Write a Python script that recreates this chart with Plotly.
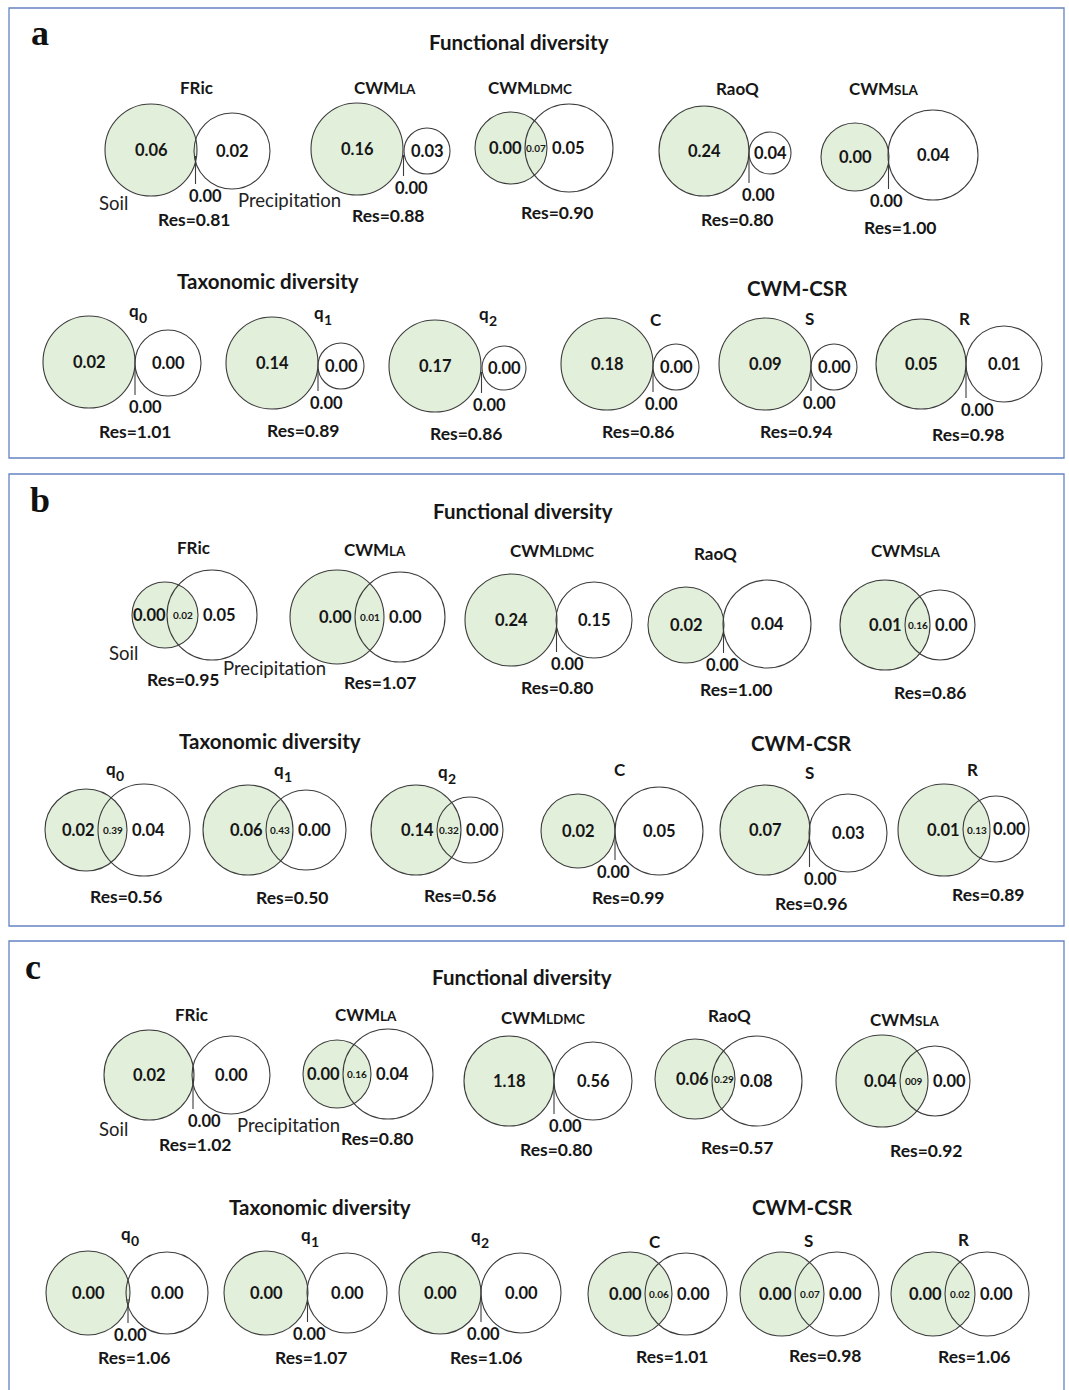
import plotly.graph_objects as go

# Variance partitioning of diversity metrics between soil and precipitation
# Order: FRic, CWM_LA, CWM_LDMC, RaoQ, CWM_SLA, q0, q1, q2, C, S, R
metric_titles = [
    ("FRic", ""), ("CWM", "LA"), ("CWM", "LDMC"), ("RaoQ", ""), ("CWM", "SLA"),
    ("q", "0"), ("q", "1"), ("q", "2"),
    ("C", ""), ("S", ""), ("R", ""),
]
group_titles = ["Functional diversity", "Taxonomic diversity", "CWM-CSR"]
panel_letters = ["a", "b", "c"]
set_names = ["Soil", "Precipitation"]

# panel a
soil_a = [0.06, 0.16, 0.00, 0.24, 0.00, 0.02, 0.14, 0.17, 0.18, 0.09, 0.05]
shared_a = [0.00, 0.00, 0.07, 0.00, 0.00, 0.00, 0.00, 0.00, 0.00, 0.00, 0.00]
precip_a = [0.02, 0.03, 0.05, 0.04, 0.04, 0.00, 0.00, 0.00, 0.00, 0.00, 0.01]
res_a = [0.81, 0.88, 0.90, 0.80, 1.00, 1.01, 0.89, 0.86, 0.86, 0.94, 0.98]

# panel b
soil_b = [0.00, 0.00, 0.24, 0.02, 0.01, 0.02, 0.06, 0.14, 0.02, 0.07, 0.01]
shared_b = [0.02, 0.01, 0.00, 0.00, 0.16, 0.39, 0.43, 0.32, 0.00, 0.00, 0.13]
precip_b = [0.05, 0.00, 0.15, 0.04, 0.00, 0.04, 0.00, 0.00, 0.05, 0.03, 0.00]
res_b = [0.95, 1.07, 0.80, 1.00, 0.86, 0.56, 0.50, 0.56, 0.99, 0.96, 0.89]

# panel c
soil_c = [0.02, 0.00, 1.18, 0.06, 0.04, 0.00, 0.00, 0.00, 0.00, 0.00, 0.00]
shared_c = [0.00, 0.16, 0.00, 0.29, 0.09, 0.00, 0.00, 0.00, 0.06, 0.07, 0.02]
precip_c = [0.00, 0.04, 0.56, 0.08, 0.00, 0.00, 0.00, 0.00, 0.00, 0.00, 0.00]
res_c = [1.02, 0.80, 0.80, 0.57, 0.92, 1.06, 1.07, 1.06, 1.01, 0.98, 1.06]
# the shared fraction of CWM_SLA in panel c is printed without its decimal point
shared_text_c = {4: "009"}

# ---------------------------------------------------------------- layout ----
W, H = 1069, 1390
FONT = "Lato"
INK = "#161616"
GREEN = "#E2EFDA"
EDGE = "#3c3c3c"
FRAME = "#6483C2"

NUM_SIZE = 16.5
SMALL_SIZE = 10
RES_SIZE = 17.5
TITLE_SIZE = 17
SUB_SIZE = 13.5
INDEX_SIZE = 14
GROUP_SIZE = 20.5
SET_SIZE = 18.5

# diagram geometry: soil circle (x, y, r), precipitation circle (x, y, r),
# metric title (x, y), residual label (x, y), shared label for touching circles
geom_a = [
    ((151, 150, 46), (232, 151, 38), (196, 87), (194, 219), (205, 196)),
    ((357, 149, 46), (427, 151, 23), (386, 87), (388, 215), (411, 188)),
    ((511, 148, 36), (569, 148, 44), (531, 87), (557, 212), None),
    ((704, 151, 45), (770, 153, 21), (737, 88), (737, 219), (758, 195)),
    ((855, 157, 34), (933, 155, 45), (885, 88), (900, 227), (886, 201)),
    ((89, 362, 46), (168, 363, 33), (138, 310), (135, 431), (145, 407)),
    ((272, 363, 46), (341, 366, 23), (323, 312), (303, 430), (326, 403)),
    ((435, 366, 46), (504, 368, 22), (488, 313), (466, 433), (489, 405)),
    ((607, 364, 46), (676, 367, 23), (656, 319), (638, 431), (661, 404)),
    ((765, 364, 46), (834, 367, 23), (809, 318), (796, 431), (819, 403)),
    ((921, 364, 45), (1004, 364, 38), (964, 318), (968, 434), (977, 410)),
]
geom_b = [
    ((165, 615, 33), (212, 615, 45), (193, 547), (183, 679), None),
    ((337, 617, 47), (400, 617, 45), (376, 549), (380, 682), None),
    ((511, 620, 46), (594, 620, 38), (553, 550), (557, 687), (567, 664)),
    ((686, 625, 38), (767, 624, 44), (715, 553), (736, 689), (722, 665)),
    ((885, 625, 45), (940, 625, 35), (907, 550), (930, 692), None),
    ((86, 830, 41), (144, 830, 46), (115, 768), (126, 896), None),
    ((248, 830, 45), (306, 830, 40), (283, 769), (292, 897), None),
    ((416, 830, 45), (470, 830, 33), (447, 771), (460, 895), None),
    ((578, 831, 37), (659, 831, 44), (620, 769), (628, 897), (613, 872)),
    ((765, 830, 45), (848, 833, 39), (809, 772), (811, 903), (820, 879)),
    ((944, 830, 46), (996, 829, 33), (972, 769), (988, 894), None),
]
geom_c = [
    ((149, 1075, 45), (231, 1075, 39), (191, 1014), (195, 1144), (204, 1121)),
    ((337, 1074, 34), (388, 1074, 45), (367, 1014), (377, 1138), None),
    ((509, 1081, 45), (593, 1081, 39), (544, 1017), (556, 1149), (565, 1126)),
    ((695, 1079, 40), (757, 1081, 45), (729, 1015), (737, 1147), None),
    ((882, 1081, 46), (935, 1081, 35), (906, 1019), (926, 1150), None),
    ((88, 1293, 42), (167, 1293, 41), (130, 1233), (134, 1357), (130, 1335)),
    ((266, 1293, 42), (347, 1293, 40), (310, 1234), (311, 1357), (309, 1334)),
    ((440, 1293, 41), (521, 1293, 40), (480, 1235), (486, 1357), (483, 1334)),
    ((630, 1294, 42), (686, 1294, 41), (655, 1241), (672, 1356), None),
    ((782, 1294, 42), (837, 1294, 42), (808, 1240), (825, 1355), None),
    ((933, 1294, 42), (987, 1294, 42), (963, 1239), (974, 1356), None),
]

panels = [
    dict(letter=panel_letters[0], soil=soil_a, shared=shared_a, precip=precip_a,
         res=res_a, geom=geom_a, texts={},
         frame=(9, 8, 1064, 458), letter_xy=(40, 33),
         groups=[(519, 42), (268, 281), (797, 288)],
         set_xy=[(113, 203), (289, 200)]),
    dict(letter=panel_letters[1], soil=soil_b, shared=shared_b, precip=precip_b,
         res=res_b, geom=geom_b, texts={},
         frame=(9, 474, 1064, 926), letter_xy=(40, 500),
         groups=[(523, 511), (270, 741), (801, 743)],
         set_xy=[(123, 653), (274, 668)]),
    dict(letter=panel_letters[2], soil=soil_c, shared=shared_c, precip=precip_c,
         res=res_c, geom=geom_c, texts=shared_text_c,
         frame=(9, 941, 1064, 1396), letter_xy=(33, 967),
         groups=[(522, 977), (320, 1207), (802, 1207)],
         set_xy=[(113, 1129), (288, 1125)]),
]

# rough bold glyph widths (em) used to centre a title and its subscript together
GLYPH_EM = {"C": 0.64, "W": 0.95, "M": 0.86, "L": 0.53, "A": 0.69, "D": 0.72,
            "S": 0.55, "q": 0.58, "0": 0.58, "1": 0.58, "2": 0.58}


def text_width(s, size):
    return sum(GLYPH_EM.get(ch, 0.6) for ch in s) * size


shapes = []
annotations = []


def label(x, y, s, size, bold=True, family=FONT, color=INK, xanchor="center"):
    annotations.append(dict(
        x=x, y=y, xref="x", yref="y", showarrow=False,
        text=f"<b>{s}</b>" if bold else s,
        font=dict(family=family, size=size, color=color),
        xanchor=xanchor, yanchor="middle",
        borderpad=0, borderwidth=0,
    ))


def title(x, y, main, sub):
    if not sub:
        label(x, y, main, TITLE_SIZE)
        return
    is_index = sub.isdigit()
    sub_size = INDEX_SIZE if is_index else SUB_SIZE
    # place the join so that main + subscript are centred on x
    split = x + (text_width(main, TITLE_SIZE) - text_width(sub, sub_size)) / 2
    label(split, y, main, TITLE_SIZE, xanchor="right")
    # numeric indices sit below the line, trait codes stay on the baseline as small caps
    label(split, y + (7 if is_index else 1.5), sub, sub_size, xanchor="left")


def circle(cx, cy, r, fill):
    shapes.append(dict(
        type="circle", xref="x", yref="y",
        x0=cx - r, x1=cx + r, y0=cy - r, y1=cy + r,
        fillcolor=fill, line=dict(color=EDGE, width=1.1),
    ))


def fmt(v):
    return f"{v:.2f}"


for p in panels:
    x0, y0, x1, y1 = p["frame"]
    shapes.append(dict(type="rect", xref="x", yref="y", x0=x0, x1=x1, y0=y0, y1=y1,
                       line=dict(color=FRAME, width=1.3), fillcolor="rgba(0,0,0,0)"))
    label(*p["letter_xy"], p["letter"], 36, family="Liberation Serif", color="#111")
    for (gx_, gy_), g in zip(p["groups"], group_titles):
        label(gx_, gy_, g, GROUP_SIZE)
    label(*p["set_xy"][0], set_names[0], SET_SIZE, bold=False, color="#222")
    label(*p["set_xy"][1], set_names[1], SET_SIZE, bold=False, color="#222")

    for i, (sc, pc, t_xy, r_xy, z_xy) in enumerate(p["geom"]):
        gx, gy, rg = sc
        wx, wy, rw = pc
        # soil circle filled, precipitation circle outline only so the overlap stays green
        circle(gx, gy, rg, GREEN)
        circle(wx, wy, rw, "rgba(0,0,0,0)")
        title(*t_xy, *metric_titles[i])
        label(*r_xy, f"Res={fmt(p['res'][i])}", RES_SIZE)

        shared_txt = p["texts"].get(i, fmt(p["shared"][i]))
        if p["shared"][i] > 0:
            gl, gr = gx - rg, gx + rg
            wl, wr = wx - rw, wx + rw
            sx = max((gl + wl) / 2, wl - 20)
            px = min((gr + wr) / 2, gr + 21)
            mx = (wl + gr) / 2
            label(sx, gy, fmt(p["soil"][i]), NUM_SIZE)
            label(mx, gy, shared_txt, SMALL_SIZE)
            label(px, wy, fmt(p["precip"][i]), NUM_SIZE)
        else:
            tx = (gx + rg + wx - rw) / 2
            zx, zy = z_xy
            shapes.append(dict(type="line", xref="x", yref="y",
                               x0=tx, x1=tx, y0=gy + 6, y1=zy - 12,
                               line=dict(color=EDGE, width=1.1)))
            label(gx, gy, fmt(p["soil"][i]), NUM_SIZE)
            label(wx, wy, fmt(p["precip"][i]), NUM_SIZE)
            label(zx, zy, shared_txt, NUM_SIZE)

fig = go.Figure()
fig.add_trace(go.Scatter(x=[], y=[], hoverinfo="skip", showlegend=False))
fig.update_layout(
    width=W, height=H, autosize=False,
    margin=dict(l=0, r=0, t=0, b=0),
    paper_bgcolor="white", plot_bgcolor="white",
    xaxis=dict(range=[0, W], visible=False, fixedrange=True),
    yaxis=dict(range=[H, 0], visible=False, fixedrange=True),
    shapes=shapes, annotations=annotations,
    showlegend=False,
)
fig.write_html("out.html", config={"displayModeBar": False})
